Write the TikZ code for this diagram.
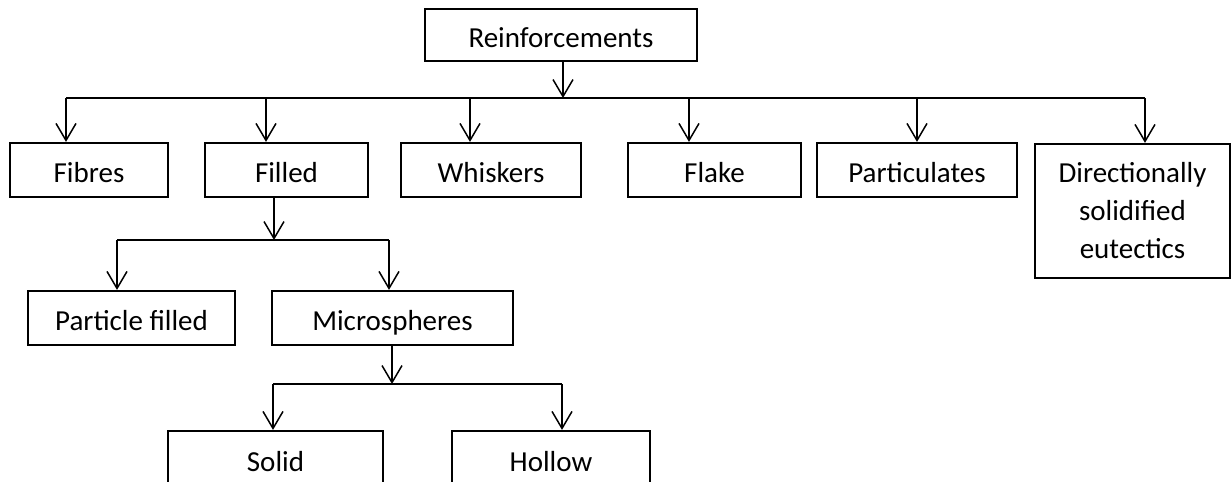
\documentclass[tikz,border=0pt]{standalone}
\usepackage{fontspec}
\setmainfont{Carlito}
\usetikzlibrary{arrows.meta}

\begin{document}
\begin{tikzpicture}[x=1pt,y=-1pt,->,>={Straight Barb[length=17pt,width=20pt]},line width=1.5pt,
  frame/.style={draw,line width=2.2pt,inner sep=0pt,font=\fontsize{29}{38}\selectfont},
  box/.style={frame,minimum height=54pt,text height=25pt,text depth=0pt},
  tallbox/.style={frame,minimum height=134pt,align=center}]

\useasboundingbox (0,0) rectangle (1232,482);

\node [box,minimum width=272pt,minimum height=52pt] (reinf) at (561,35) {Reinforcements};

\node [box,minimum width=158pt] (fibres) at (89,170) {Fibres};
\node [box,minimum width=163pt] (filled) at (286.5,170) {Filled};
\node [box,minimum width=180pt] (whiskers) at (491,170) {Whiskers};
\node [box,minimum width=173pt] (flake) at (714.5,170) {Flake};
\node [box,minimum width=200pt] (partic) at (917,170) {Particulates};
\node [tallbox,minimum width=195pt] (dse) at (1132.5,211) {Directionally\\solidified\\eutectics};

\node [box,minimum width=207pt] (pfilled) at (131.5,318) {Particle filled};
\node [box,minimum width=241pt] (micro) at (392.5,318) {Microspheres};

\node [box,minimum width=215pt,minimum height=55pt] (solid) at (275.5,458.5) {Solid};
\node [box,minimum width=198pt,minimum height=55pt] (hollow) at (551,458.5) {Hollow};

% branch points
\coordinate (r0) at (563,98);
\coordinate (b1) at (66,98);
\coordinate (b2) at (266,98);
\coordinate (b3) at (470,98);
\coordinate (b4) at (689,98);
\coordinate (b5) at (917,98);
\coordinate (b6) at (1145,98);

\coordinate (f0) at (274,240);
\coordinate (f1) at (117,240);
\coordinate (f2) at (389,240);

\coordinate (m0) at (392,384);
\coordinate (m1) at (273,384);
\coordinate (m2) at (562,384);

\path [draw,-,line width=1.2pt]
    (b1) -- (b6)
    (f1) -- (f2)
    (m1) -- (m2)
;

\draw (reinf.south -| r0) -- (r0);
\foreach \c/\n in {b1/fibres,b2/filled,b3/whiskers,b4/flake,b5/partic,b6/dse}
    \draw (\c) -- (\c |- \n.north);

\draw (filled.south -| f0) -- (f0);
\draw (f1) -- (f1 |- pfilled.north);
\draw (f2) -- (f2 |- micro.north);

\draw (micro.south -| m0) -- (m0);
\draw (m1) -- (m1 |- solid.north);
\draw (m2) -- (m2 |- hollow.north);

\end{tikzpicture}
\end{document}
